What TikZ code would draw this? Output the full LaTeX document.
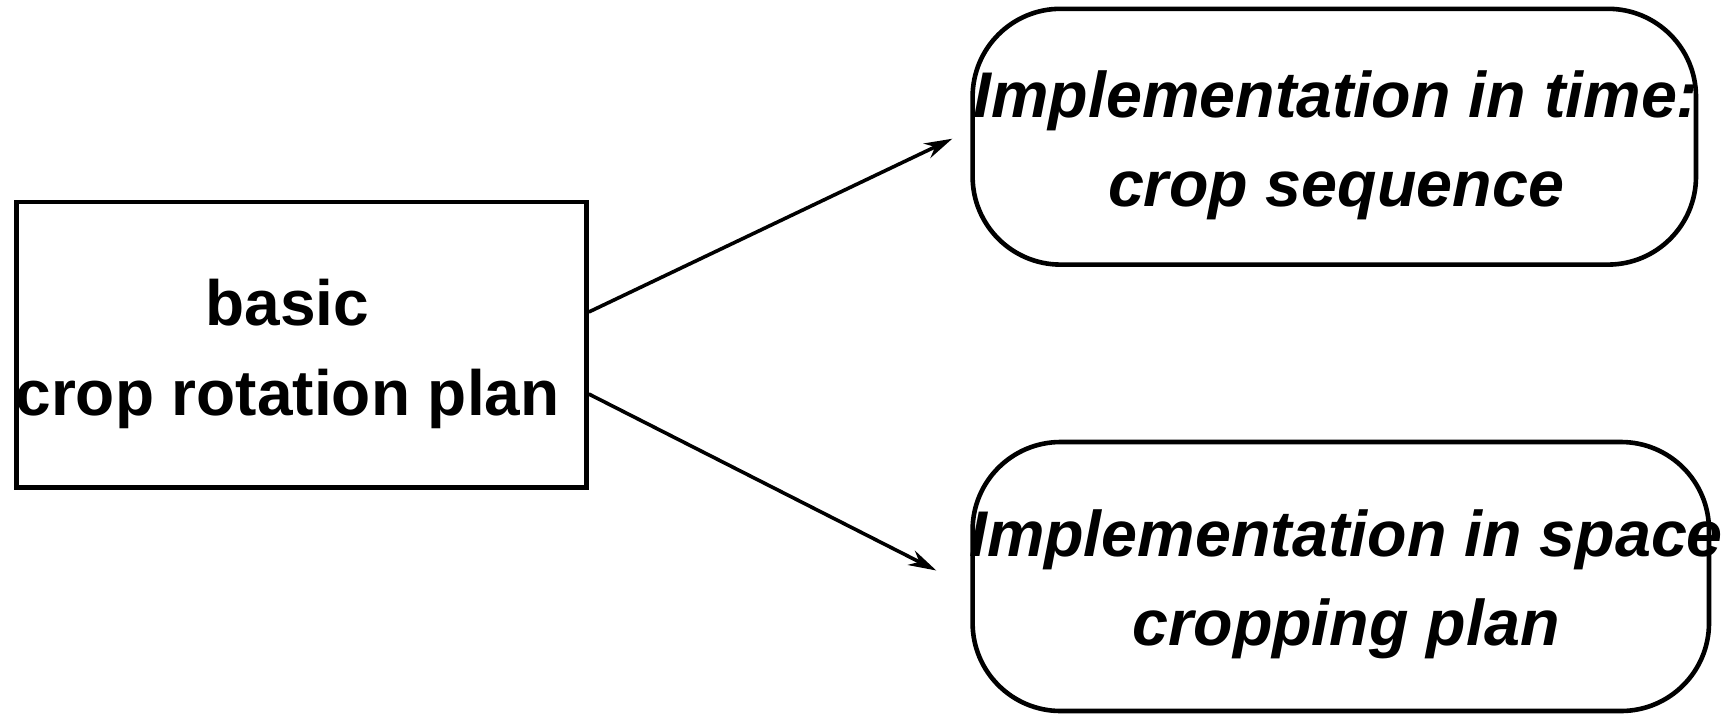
\documentclass[tikz,border=0pt]{standalone}
\usepackage{fontspec}
\setmainfont{Liberation Sans}
\usetikzlibrary{arrows.meta}
\begin{document}
\begin{tikzpicture}[x=0.5pt,y=-0.5pt,
  every node/.style={font=\fontsize{32pt}{45pt}\selectfont\bfseries},
  planbox/.style={draw, line width=2.3pt, minimum width=285pt, minimum height=142.8pt, inner sep=0pt},
  implbox/.style={draw, line width=2.3pt, rounded corners=44pt, inner sep=0pt},
  boxtext/.style={align=center, inner sep=0pt, font=\fontsize{32.3pt}{44.5pt}\selectfont\bfseries\itshape},
  link/.style={line width=1.8pt, -{Stealth[length=14pt, width=8pt, inset=4.5pt]}}]
  \useasboundingbox (0,0) rectangle (1729,713);

  % source plan
  \node[planbox] (plan) at (301.5,344.6) {};
  \node[align=center, inner sep=0pt] (plantext) at (287.5,354) {basic\\crop rotation plan};

  % implementation in time
  \node[implbox, minimum width=361.7pt, minimum height=127.9pt] (time) at (1334.3,136.7) {};
  \node[boxtext] (timetext) at (1336,145.5) {Implementation in time:\\crop sequence};

  % implementation in space
  \node[implbox, minimum width=368.2pt, minimum height=134.5pt] (space) at (1340.8,576.5) {};
  \node[boxtext] (spacetext) at (1346,584) {Implementation in space\\cropping plan};

  % connectors
  \draw[link] ([yshift=16.3pt]plan.east) -- ([xshift=-9pt,yshift=-1pt]time.west);
  \draw[link] ([yshift=-24.7pt]plan.east) -- ([xshift=-17pt,yshift=3pt]space.west);
\end{tikzpicture}
\end{document}
